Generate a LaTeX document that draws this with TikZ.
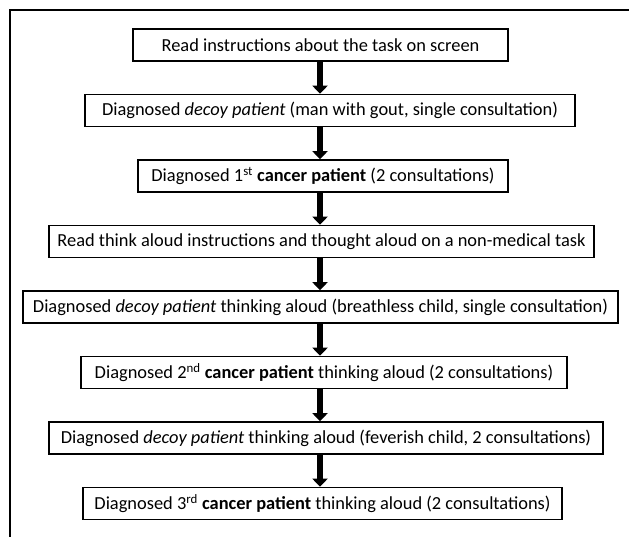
\documentclass[tikz,border=0pt]{standalone}
\usepackage{fontspec}
\setmainfont{Carlito}
\usepackage{tikz}
\usetikzlibrary{arrows.meta, positioning}

\tikzset{
  stagebox/.style={draw=black, line width=1.6pt, fill=white, minimum height=32pt, inner sep=0pt, font=\fontsize{18.4}{21}\selectfont},
  flowarrow/.style={line width=6pt, -{Triangle[width=15pt, length=8pt]}}
}

\begin{document}
\begin{tikzpicture}[x=1pt, y=-1pt]
  \useasboundingbox (0,0) rectangle (629,537);
  % frame of the scanned figure
  \draw[line width=1.4pt] (10,537) -- (10,10) -- (629,10);

  \coordinate (spine) at (320,0);

  \node[stagebox, minimum width=375pt] (read) at (320.5,45) {Read instructions about the task on screen};
  \node[stagebox, minimum width=490pt] (gout) at (330,110.5) {Diagnosed \textit{decoy patient} (man with gout, single consultation)};
  \node[stagebox, minimum width=370pt] (canA) at (323,176) {Diagnosed 1\textsuperscript{st} \textbf{cancer patient} (2 consultations)};
  \node[stagebox, minimum width=545pt] (think) at (321.5,241.5) {Read think aloud instructions and thought aloud on a non-medical task};
  \node[stagebox, minimum width=595pt] (breath) at (320.5,307) {Diagnosed \textit{decoy patient} thinking aloud (breathless child, single consultation)};
  \node[stagebox, minimum width=486pt] (canB) at (324,372.5) {Diagnosed 2\textsuperscript{nd} \textbf{cancer patient} thinking aloud (2 consultations)};
  \node[stagebox, minimum width=554pt] (fever) at (326,438) {Diagnosed \textit{decoy patient} thinking aloud (feverish child, 2 consultations)};
  \node[stagebox, minimum width=479pt] (canC) at (322.5,503.5) {Diagnosed 3\textsuperscript{rd} \textbf{cancer patient} thinking aloud (2 consultations)};

  % arrows down the spine
  \foreach \from/\to in {read/gout, gout/canA, canA/think, think/breath, breath/canB, canB/fever, fever/canC}
    \draw[flowarrow] (\from.south -| spine) -- (\to.north -| spine);
\end{tikzpicture}
\end{document}
